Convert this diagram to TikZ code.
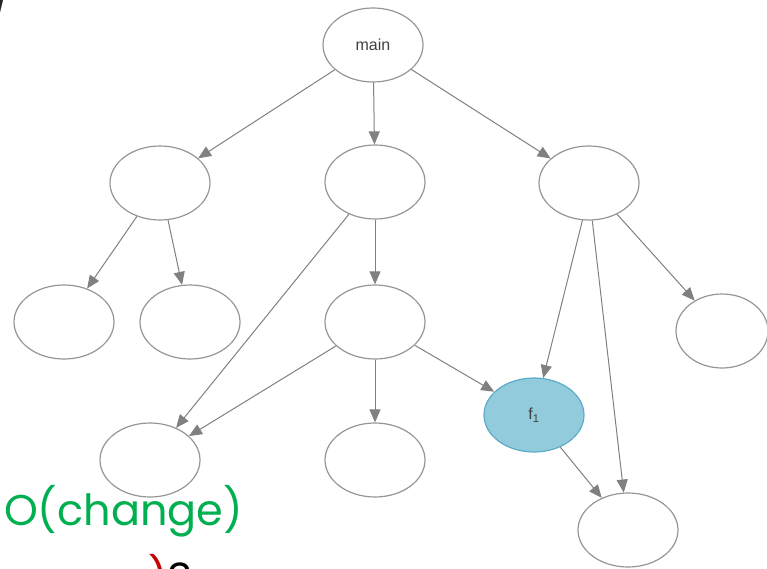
\documentclass[tikz,border=0pt]{standalone}
\usepackage{fontspec}
\setmainfont{Poppins}
\newfontfamily\nodefont{Liberation Sans}
\usetikzlibrary{shapes.geometric,arrows.meta}
\definecolor{edgegray}{RGB}{128,128,128}
\definecolor{ringgray}{RGB}{150,150,150}
\definecolor{fblue}{RGB}{146,204,220}
\definecolor{fborder}{RGB}{90,172,200}
\definecolor{bigreen}{RGB}{0,176,80}
\definecolor{bired}{RGB}{200,0,0}
\tikzset{
  vtx/.style={ellipse,draw=ringgray,line width=1.2pt,fill=white,minimum width=100pt,minimum height=74pt,inner sep=0pt,font=\nodefont\fontsize{16}{18}\selectfont,text=black!75},
  hot/.style={vtx,fill=fblue,draw=fborder},
  edge/.style={draw=edgegray,line width=1pt,-{Triangle[length=13pt,width=11pt]}}
}
\begin{document}
\begin{tikzpicture}[x=1pt,y=-1pt]
\useasboundingbox (0,0) rectangle (767,569);
\clip (0,0) rectangle (767,569);
\node[vtx] (main) at (373,45) {main};
\node[vtx] (a) at (160,183) {};
\node[vtx] (b) at (375,182) {};
\node[vtx] (c) at (589,183) {};
\node[vtx] (aa) at (64,322) {};
\node[vtx] (ab) at (190,322) {};
\node[vtx] (bc) at (375,322) {};
\node[vtx,minimum width=92pt] (cd) at (722,331) {};
\node[vtx] (x) at (150,460) {};
\node[vtx] (y) at (375,460) {};
\node[hot] (f) at (534,415) {f\textsubscript{1}};
\node[vtx] (z) at (628,530) {};
\draw[edge] (main) -- (a);
\draw[edge] (main) -- (b);
\draw[edge] (main) -- (c);
\draw[edge] (a) -- (aa);
\draw[edge] (a) -- (ab);
\draw[edge] (b) -- (bc);
\draw[edge] (b) -- (x);
\draw[edge] (c.{-100}) -- (f);
\draw[edge] (c.{-85}) -- (z);
\draw[edge] (c) -- (cd);
\draw[edge] (bc) -- (x);
\draw[edge] (bc) -- (y);
\draw[edge] (bc) -- (f);
\draw[edge] (f) -- (z);
\node[anchor=base west,inner sep=0pt,text=bigreen,font=\fontsize{43}{48}\selectfont] (oc) at (4,525) {O(change)};
\node[anchor=north west,inner sep=0pt,font=\fontsize{43}{48}\selectfont] (tail) at (148,554) {\textcolor{bired}{)}3};
\node[anchor=north west,inner sep=0pt,text=black!85,font=\fontsize{40}{44}\selectfont] (slash) at (-8,-22) {/};
\end{tikzpicture}
\end{document}
